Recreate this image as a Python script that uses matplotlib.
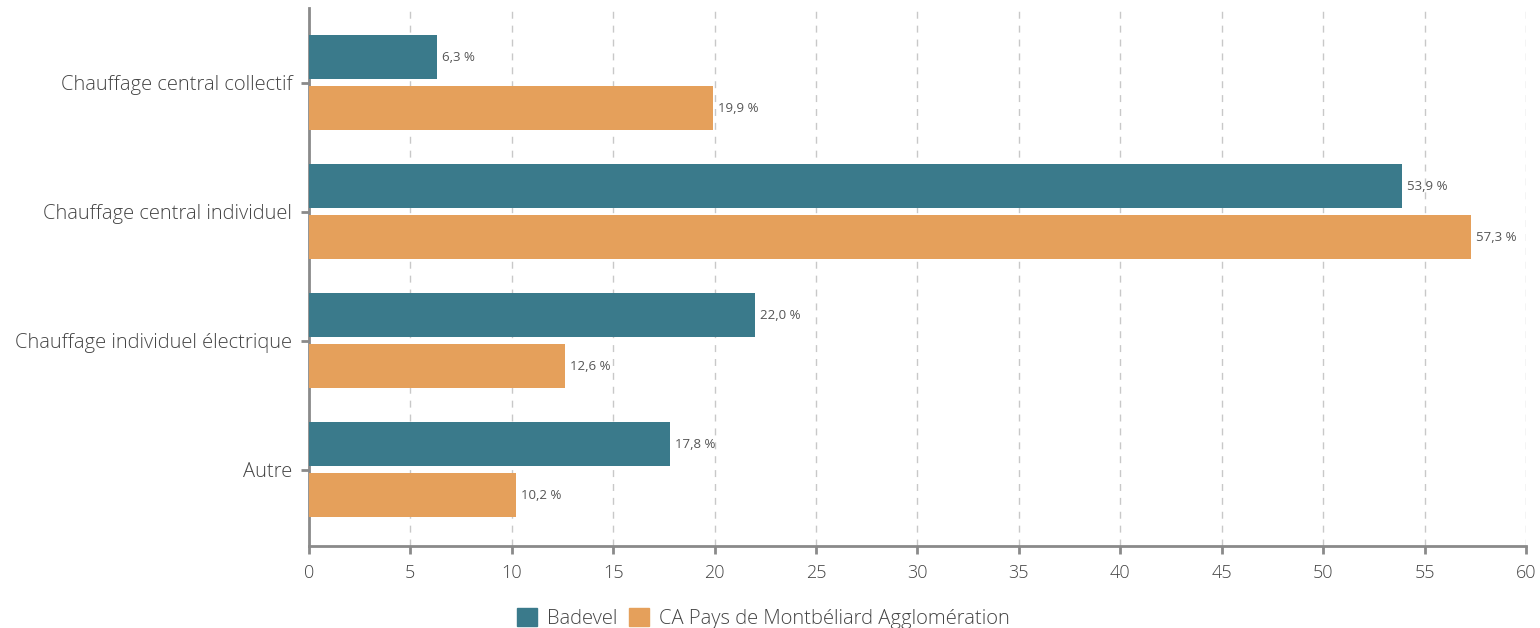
import numpy as np
import matplotlib.pyplot as plt
from matplotlib.patches import Patch

categories = ["Chauffage central collectif", "Chauffage central individuel",
              "Chauffage individuel électrique", "Autre"]
badevel = [6.3, 53.9, 22.0, 17.8]
capma = [19.9, 57.3, 12.6, 10.2]
series_names = ["Badevel", "CA Pays de Montbéliard Agglomération"]
xticks = [0, 5, 10, 15, 20, 25, 30, 35, 40, 45, 50, 55, 60]

teal = "#3a7a8b"
orange = "#e5a05b"
grey = "#8a8a8a"
txt = "#444444"

plt.rcParams['font.family'] = ['Open Sans', 'DejaVu Sans']

fig = plt.figure(figsize=(15.4, 6.28), dpi=100)
ax = fig.add_axes([0.2006, 0.1306, 0.7903, 0.8567])

y = np.arange(len(categories))
h = 0.34
off = 0.198
b1 = ax.barh(y - off, badevel, height=h, color=teal, zorder=3)
b2 = ax.barh(y + off, capma, height=h, color=orange, zorder=3)

for bars, vals in ((b1, badevel), (b2, capma)):
    for bar, v in zip(bars, vals):
        ax.text(v + 0.25, bar.get_y() + bar.get_height() / 2,
                f"{v:.1f} %".replace(".", ","), va="center", ha="left",
                fontsize=9.5, color="#555555", zorder=4)

ax.set_ylim(len(categories) - 1 + 0.59, -0.58)
ax.set_xlim(0, 60)
ax.set_yticks(y)
ax.set_yticklabels(categories, fontsize=14.5, color=txt, fontweight="light")
ax.set_xticks(xticks)
ax.set_xticklabels([str(t) for t in xticks], fontsize=13, color=txt, fontweight="light")

ax.grid(axis="x", linestyle=(0, (5, 5)), color="#c8c8c8", linewidth=1, zorder=0)
for s in ("top", "right"):
    ax.spines[s].set_visible(False)
for s in ("left", "bottom"):
    ax.spines[s].set_color(grey)
    ax.spines[s].set_linewidth(2)
ax.tick_params(axis="both", colors=grey, width=2, length=6, labelcolor=txt)
ax.tick_params(axis="x", pad=7)
ax.tick_params(axis="y", pad=6)

handles = [Patch(color=teal, label=series_names[0]), Patch(color=orange, label=series_names[1])]
fig.legend(handles=handles, loc="lower center", bbox_to_anchor=(0.4957, -0.03), ncol=2,
           frameon=False, prop={"size": 14.5, "weight": "light"},
           handlelength=1.0, handleheight=1.05,
           handletextpad=0.5, columnspacing=0.6, labelcolor=txt)

fig.savefig("out.png", dpi=100)
